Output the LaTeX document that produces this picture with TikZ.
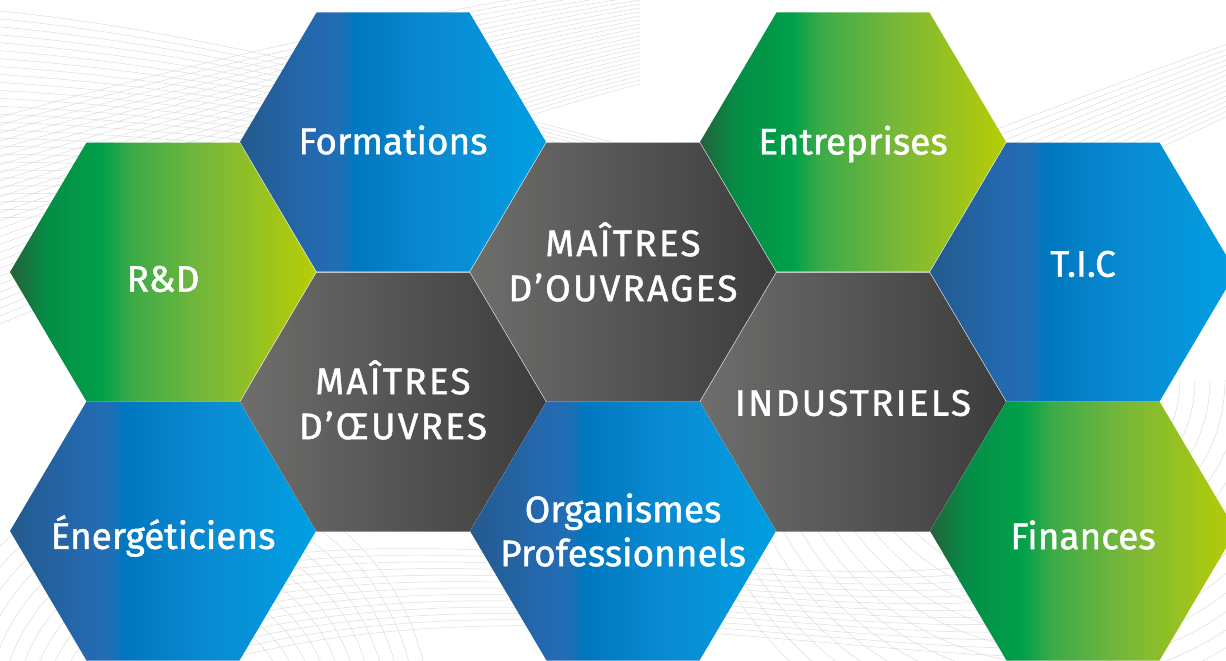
\documentclass[tikz,border=0pt]{standalone}
\usepackage{fontspec}
\setmainfont{Fira Sans}
\newfontfamily\hexfont{Fira Sans}[FakeBold=1.2]
\newfontfamily\hexcapsfont{Fira Sans}[FakeBold=1.2, LetterSpace=6]

\definecolor{blueA}{HTML}{245A8E}
\definecolor{blueB}{HTML}{2469B0}
\definecolor{blueC}{HTML}{1F6FB6}
\definecolor{blueD}{HTML}{0077BF}
\definecolor{blueE}{HTML}{0A8BD2}
\definecolor{blueF}{HTML}{009FE2}
\definecolor{greenA}{HTML}{24623A}
\definecolor{greenB}{HTML}{058D46}
\definecolor{greenC}{HTML}{00A04A}
\definecolor{greenD}{HTML}{3DAB48}
\definecolor{greenE}{HTML}{7AB838}
\definecolor{greenF}{HTML}{B8CD05}
\definecolor{grayA}{HTML}{6E6E6D}
\definecolor{grayB}{HTML}{3C3C3C}
\definecolor{bggray}{HTML}{DCDCDC}

\pgfdeclarehorizontalshading{hexblue}{100bp}{color(0bp)=(blueA); color(25bp)=(blueA);
	color(37.5bp)=(blueB); color(41.5bp)=(blueC); color(43.5bp)=(blueD);
	color(57.5bp)=(blueE); color(75bp)=(blueF); color(100bp)=(blueF)}
\pgfdeclarehorizontalshading{hexgreen}{100bp}{color(0bp)=(greenA); color(25bp)=(greenA);
	color(31bp)=(greenB); color(40bp)=(greenC); color(45bp)=(greenD);
	color(57.5bp)=(greenE); color(75bp)=(greenF); color(100bp)=(greenF)}
\pgfdeclarehorizontalshading{hexgray}{100bp}{color(0bp)=(grayA); color(25bp)=(grayA);
	color(75bp)=(grayB); color(100bp)=(grayB)}

\tikzset{
	hex/.style = {
		draw=none
	},
	hex_blue/.style = {
		hex,
		shading=hexblue
	},
	hex_green/.style = {
		hex,
		shading=hexgreen
	},
	hex_gray/.style = {
		hex,
		shading=hexgray
	},
	hex_label/.style = {
		align=center,
		inner sep=0pt,
		text=white,
		font=\hexfont\fontsize{37}{44}\selectfont
	},
	hex_label_caps/.style = {
		hex_label,
		font=\hexcapsfont\fontsize{37}{45}\selectfont
	},
	bgline/.style = {
		draw=bggray,
		line width=0.5pt
	},
}

% one cell of the honeycomb: style, centre x, centre y
\newcommand{\hexcell}[3]{%
	\shade[#1] (#2-153,#3) -- (#2-76.5,#3-129.5) -- (#2+76.5,#3-129.5)
		-- (#2+153,#3) -- (#2+76.5,#3+129.5) -- (#2-76.5,#3+129.5) -- cycle;
}

\begin{document}
\begin{tikzpicture}[x=1pt,y=-1pt]
\useasboundingbox (0,0) rectangle (1226,661);

% background line work
\begin{scope}
\clip (0,0) rectangle (1226,661);
\foreach \i in {0,...,26} {
	\draw[bgline] (-10,10+8*\i) .. controls (200,30+7*\i) and (420,90+5*\i) .. (640,150+3*\i);
	\draw[bgline] (-10,120+8*\i) .. controls (200,60+7*\i) and (420,10+5*\i) .. (640,-20+4*\i);
}
\foreach \r in {150,156,...,200}
	\draw[bgline] (460+\r,170) arc[start angle=0, end angle=95, radius=\r];
\foreach \r in {60,66,...,96}
	\draw[bgline] (640+\r,165) arc[start angle=0, end angle=180, radius=\r];
\foreach \r in {120,135,...,390}
	\draw[bgline] (1060+\r,380) arc[start angle=0, end angle=165, radius=\r];
\foreach \i in {0,...,14}
	\draw[bgline] (940,150+8*\i) .. controls (1050,110+6*\i) and (1150,70+6*\i) .. (1240,40+5*\i);
\foreach \r in {200,212,...,330}
	\draw[bgline] (700+\r,820) arc[start angle=0, end angle=180, radius=\r];
\foreach \i in {0,...,12}
	\draw[bgline] (240,560+8*\i) .. controls (500,520+6*\i) and (800,600+4*\i) .. (1010,560+8*\i);
\foreach \r in {110,124,...,260}
	\draw[bgline] (180+\r,720) arc[start angle=0, end angle=360, radius=\r];
\end{scope}

% honeycomb
\hexcell{hex_green}{163}{272}
\hexcell{hex_blue}{163}{531}
\hexcell{hex_blue}{393}{142}
\hexcell{hex_gray}{393}{402}
\hexcell{hex_gray}{623}{272}
\hexcell{hex_blue}{623}{531}
\hexcell{hex_green}{853}{142}
\hexcell{hex_gray}{853}{402}
\hexcell{hex_blue}{1083}{272}
\hexcell{hex_green}{1083}{531}

% labels
\node[hex_label] (rd) at (163,279) {R\&D};
\node[hex_label] (energ) at (163,536) {Énergéticiens};
\node[hex_label] (form) at (393,140) {Formations};
\node[hex_label_caps] (moeuvre) at (393,400) {MAÎTRES\\D’ŒUVRES};
\node[hex_label_caps] (mouvrage) at (623,262) {MAÎTRES\\D’OUVRAGES};
\node[hex_label] (orga) at (623,530) {Organismes\\Professionnels};
\node[hex_label] (entr) at (853,144) {Entreprises};
\node[hex_label_caps] (indus) at (853,403) {INDUSTRIELS};
\node[hex_label] (tic) at (1083,264) {T.I.C};
\node[hex_label] (fin) at (1083,535) {Finances};
\end{tikzpicture}
\end{document}
